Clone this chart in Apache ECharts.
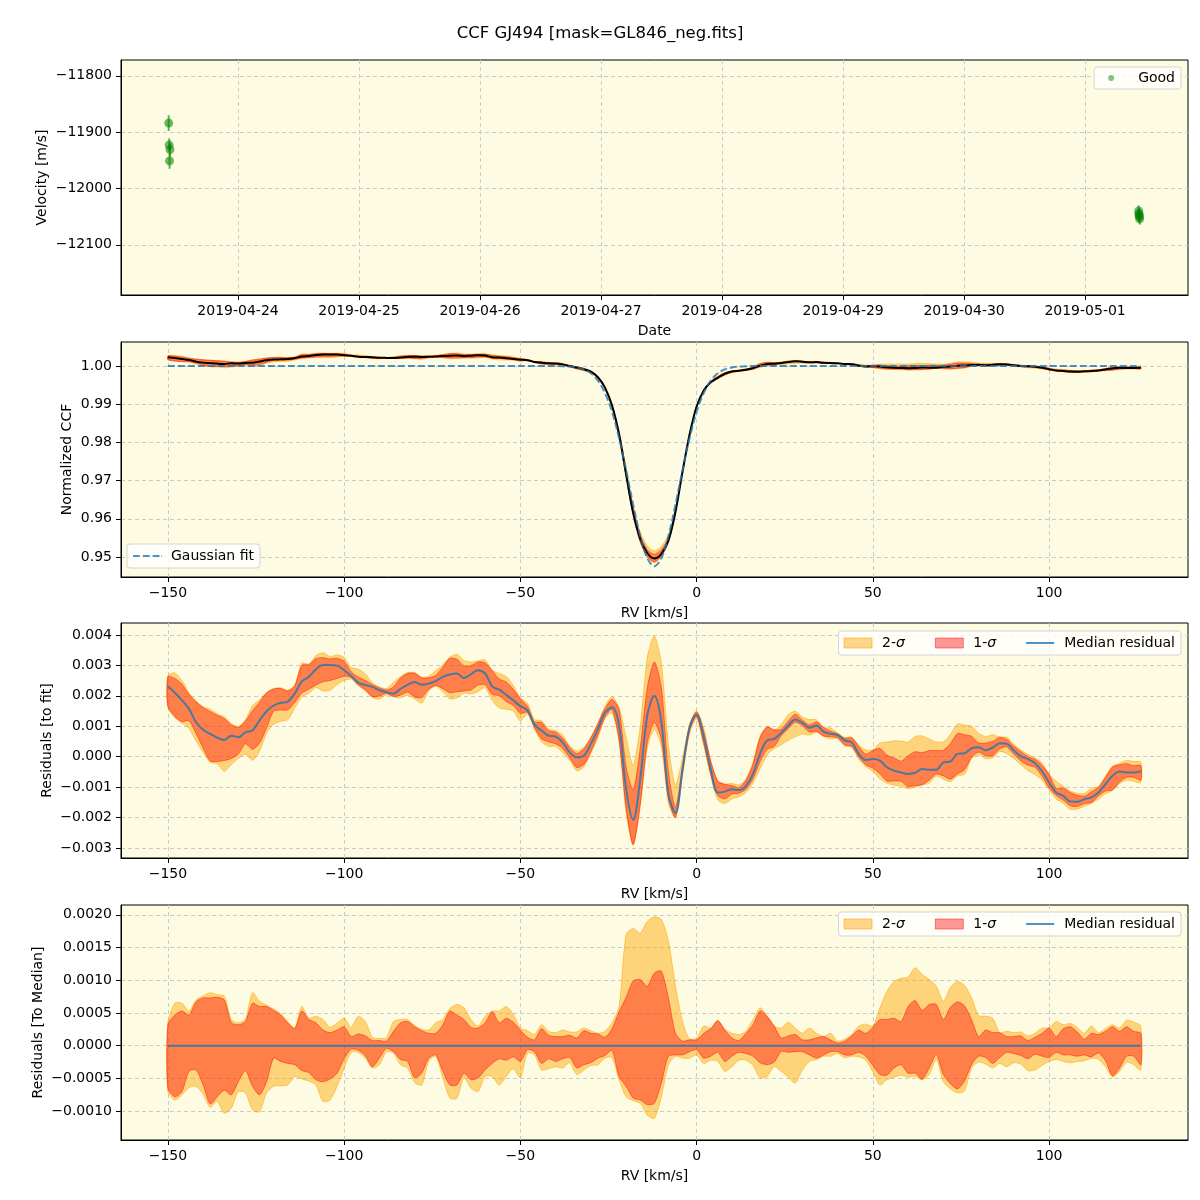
<!DOCTYPE html>
<html><head><meta charset="utf-8">
<script src="https://cdn.jsdelivr.net/npm/echarts@6/dist/echarts.min.js"></script>
<style>html,body{margin:0;padding:0;background:#fff}#c{width:1200px;height:1200px}</style>
</head><body><div id="c"></div>
<script>
// ---------------- DATA ----------------
// Time series (panel 1)
const obsTimes = ['2019-04-23T10:15:00Z','2019-04-23T10:20:00Z','2019-04-23T10:30:00Z','2019-04-23T10:25:00Z',
                  '2019-05-01T10:38:00Z','2019-05-01T10:42:00Z','2019-05-01T10:46:00Z','2019-05-01T10:50:00Z','2019-05-01T10:44:00Z'];
const obsVel   = [-11884,-11923,-11931,-11951,-12040,-12045,-12050,-12054,-12047];
const obsErr   = [14,12,12,14,10,10,10,10,10];
const dateTicks = ['2019-04-24','2019-04-25','2019-04-26','2019-04-27','2019-04-28','2019-04-29','2019-04-30','2019-05-01'];

// RV grid: -150 .. 126 km/s, step 2
const RV_START = -150, RV_STEP = 2;
// Median residual to Gaussian fit, units of 1e-3
const medianResid = [
 2.31,2.10,1.85,1.57,1.13,0.88,0.75,0.62,0.55,0.69,
 0.64,0.80,0.86,1.19,1.49,1.68,1.77,1.81,2.07,2.47,
 2.62,2.87,3.01,3.01,2.99,2.84,2.65,2.43,2.35,2.29,
 2.18,2.12,2.07,2.23,2.36,2.45,2.36,2.40,2.48,2.62,
 2.70,2.73,2.58,2.71,2.84,2.73,2.31,2.20,2.03,1.85,
 1.66,1.52,1.05,0.86,0.69,0.66,0.47,0.14,-0.02,0.03,
 0.42,0.91,1.44,1.62,1.02,-1.07,-2.08,-0.74,1.35,2.00,
 1.13,-1.23,-1.85,-0.41,0.95,1.38,0.64,-0.41,-1.18,-1.15,
 -1.07,-1.10,-0.96,-0.57,0.09,0.53,0.58,0.78,1.02,1.22,
 1.11,0.95,1.02,0.82,0.75,0.71,0.53,0.47,0.09,-0.11,
 -0.08,-0.13,-0.35,-0.46,-0.52,-0.57,-0.53,-0.41,-0.43,-0.43,
 -0.19,-0.16,0.09,0.11,0.27,0.31,0.21,0.30,0.44,0.42,
 0.20,0.01,-0.08,-0.22,-0.48,-0.85,-1.18,-1.29,-1.47,-1.48,
 -1.40,-1.34,-1.18,-0.90,-0.63,-0.49,-0.52,-0.52,-0.48];
// Spread of individual CCFs around the median (units of 1e-3)
const sig2Hi = [
 0.35,0.65,0.65,0.53,0.70,0.76,0.81,0.78,0.76,0.40,
 0.35,0.41,0.81,0.68,0.62,0.56,0.49,0.37,0.28,0.60,
 0.42,0.45,0.40,0.28,0.35,0.42,0.28,0.45,0.37,0.13,
 0.11,0.12,0.37,0.40,0.40,0.31,0.25,0.24,0.35,0.40,
 0.57,0.63,0.58,0.40,0.30,0.45,0.53,0.53,0.60,0.48,
 0.27,0.23,0.17,0.32,0.22,0.20,0.24,0.21,0.21,0.27,
 0.23,0.19,0.22,0.35,0.60,1.70,1.79,1.72,1.90,1.97,
 1.93,1.60,0.91,0.37,0.10,0.12,0.30,0.27,0.39,0.25,
 0.19,0.17,0.22,0.40,0.58,0.45,0.30,0.27,0.36,0.27,
 0.19,0.27,0.19,0.14,0.19,0.07,0.10,0.17,0.30,0.33,
 0.30,0.58,0.83,0.98,1.03,1.05,1.19,1.09,1.01,0.91,
 0.68,0.89,0.98,0.92,0.73,0.46,0.45,0.42,0.20,0.22,
 0.20,0.21,0.15,0.19,0.27,0.27,0.37,0.32,0.34,0.28,
 0.19,0.30,0.20,0.26,0.32,0.27,0.39,0.36,0.30];
const sig1Hi = [
 0.32,0.47,0.53,0.47,0.67,0.73,0.73,0.74,0.70,0.35,
 0.32,0.37,0.65,0.60,0.60,0.54,0.47,0.35,0.26,0.53,
 0.40,0.35,0.24,0.20,0.24,0.29,0.14,0.18,0.15,0.08,
 0.08,0.07,0.22,0.35,0.37,0.29,0.23,0.19,0.19,0.32,
 0.53,0.47,0.40,0.28,0.27,0.35,0.52,0.35,0.42,0.36,
 0.24,0.13,0.09,0.26,0.16,0.14,0.14,0.16,0.12,0.23,
 0.19,0.18,0.13,0.26,0.52,0.74,0.99,1.01,0.91,1.11,
 1.14,0.73,0.19,0.07,0.09,0.09,0.19,0.26,0.38,0.24,
 0.12,0.08,0.19,0.32,0.53,0.45,0.30,0.12,0.15,0.17,
 0.09,0.09,0.12,0.14,0.09,0.04,0.07,0.15,0.24,0.19,
 0.28,0.40,0.40,0.42,0.37,0.60,0.69,0.54,0.63,0.63,
 0.40,0.59,0.67,0.61,0.40,0.14,0.24,0.20,0.20,0.14,
 0.14,0.15,0.08,0.13,0.19,0.27,0.14,0.26,0.29,0.21,
 0.10,0.19,0.17,0.22,0.29,0.22,0.29,0.22,0.19];
const sig1Lo = [
 -0.65,-0.78,-0.70,-0.39,-0.37,-0.60,-0.89,-0.78,-0.68,-0.75,
 -0.55,-0.38,-0.62,-0.75,-0.55,-0.19,-0.24,-0.27,-0.29,-0.38,
 -0.41,-0.52,-0.55,-0.51,-0.42,-0.20,-0.05,-0.07,-0.15,-0.32,
 -0.19,-0.04,-0.09,-0.21,-0.24,-0.49,-0.42,-0.19,-0.14,-0.39,
 -0.60,-0.60,-0.42,-0.52,-0.49,-0.37,-0.27,-0.20,-0.22,-0.17,
 -0.24,-0.06,-0.09,-0.27,-0.20,-0.24,-0.20,-0.18,-0.34,-0.29,
 -0.26,-0.19,-0.15,-0.07,-0.47,-0.62,-0.80,-0.83,-0.90,-0.88,
 -0.57,-0.16,-0.14,-0.14,-0.09,-0.06,-0.19,-0.16,-0.10,-0.24,
 -0.16,-0.10,-0.12,-0.16,-0.26,-0.29,-0.25,-0.09,-0.10,-0.09,
 -0.09,-0.14,-0.19,-0.14,-0.09,-0.09,-0.14,-0.14,-0.10,-0.16,
 -0.30,-0.44,-0.45,-0.34,-0.29,-0.42,-0.42,-0.51,-0.34,-0.14,
 -0.44,-0.58,-0.66,-0.54,-0.29,-0.16,-0.18,-0.27,-0.18,-0.10,
 -0.12,-0.15,-0.20,-0.13,-0.16,-0.18,-0.10,-0.14,-0.14,-0.16,
 -0.14,-0.17,-0.11,-0.23,-0.46,-0.34,-0.16,-0.16,-0.29];
const sig2Lo = [
 -0.70,-0.83,-0.75,-0.64,-0.62,-0.74,-0.94,-0.85,-1.03,-0.95,
 -0.70,-0.72,-0.98,-1.01,-0.72,-0.62,-0.61,-0.60,-0.47,-0.51,
 -0.54,-0.60,-0.85,-0.83,-0.62,-0.34,-0.10,-0.10,-0.19,-0.34,
 -0.29,-0.09,-0.11,-0.29,-0.34,-0.56,-0.60,-0.24,-0.16,-0.49,
 -0.80,-0.80,-0.49,-0.65,-0.70,-0.47,-0.47,-0.60,-0.47,-0.35,
 -0.49,-0.11,-0.14,-0.37,-0.35,-0.32,-0.34,-0.26,-0.44,-0.37,
 -0.30,-0.29,-0.19,-0.18,-0.52,-0.78,-0.84,-0.88,-1.06,-1.11,
 -0.78,-0.29,-0.16,-0.19,-0.19,-0.14,-0.27,-0.22,-0.24,-0.39,
 -0.32,-0.22,-0.22,-0.30,-0.49,-0.47,-0.32,-0.39,-0.48,-0.57,
 -0.37,-0.24,-0.21,-0.16,-0.16,-0.12,-0.18,-0.16,-0.17,-0.22,
 -0.40,-0.60,-0.52,-0.48,-0.45,-0.48,-0.47,-0.52,-0.44,-0.21,
 -0.55,-0.66,-0.72,-0.69,-0.34,-0.25,-0.28,-0.34,-0.27,-0.32,
 -0.26,-0.28,-0.38,-0.37,-0.30,-0.24,-0.21,-0.24,-0.26,-0.24,
 -0.23,-0.19,-0.21,-0.32,-0.48,-0.39,-0.25,-0.29,-0.37];
// Gaussian fit (normalized CCF)
const gaussFit = [
 1,1,1,1,1,1,1,1,1,1, 1,1,1,1,1,1,1,1,1,1, 1,1,1,1,1,1,1,1,1,1,
 1,1,1,1,1,1,1,1,1,1, 1,1,1,1,1,1,1,1,1,1,
 1,1,1,1,1,0.99998,0.99995,0.99985,0.99962,0.99911,
 0.99808,0.99615,0.9929,0.9880,0.9811,0.9727,0.9637,0.9555,0.9497,0.9476,
 0.9497,0.9555,0.9637,0.9727,0.9811,0.9880,0.9929,0.99615,0.99808,0.99911,
 0.99962,0.99985,0.99995,0.99998,1,1,1,1,1,1,
 1,1,1,1,1,1,1,1,1,1, 1,1,1,1,1,1,1,1,1,1, 1,1,1,1,1,1,1,1,1,1,
 1,1,1,1,1,1,1,1,1,1, 1,1,1,1,1,1,1,1,1];
const rvTicks = [-150,-100,-50,0,50,100];

// ---------------- DERIVED ----------------
const S = 1e-3;
const rv = medianResid.map((_, i) => RV_START + i * RV_STEP);
const ccf = gaussFit.map((g, i) => g + medianResid[i] * S);          // CCF = fit + residual
const toMedianZero = medianResid.map(() => 0);
const FONT = "'DejaVu Sans', sans-serif";
const fix = s => String(s).replace(/-/g, '\u2212');

const C2 = 'rgba(255,165,0,0.45)', C2s = 'rgba(255,165,0,0.55)';
const C1 = 'rgba(255,0,0,0.40)',   C1s = 'rgba(255,0,0,0.45)';
const BLUE = 'rgba(31,119,180,0.8)';
const LINE_ICON = 'path://M0,0H28V2H0Z';
const DASH_ICON = 'path://M0,0H7V2H0Z M10,0H17V2H10Z M20,0H27V2H20Z M29,0H29.5V2H29Z';

const grids = [60, 342, 623, 905].map(t => ({left:121, top:t, width:1067, height:235, show:true,
  backgroundColor:'#fdfbe1', borderColor:'#000', borderWidth:1, containLabel:false}));

const splitL = {show:true, lineStyle:{color:'#c9c9cf', type:[4,3], width:1}};
const tickS = {show:true, length:5, inside:false, lineStyle:{color:'#000', width:1}};
const labS = {color:'#000', fontSize:14, fontFamily:FONT, margin:9};
const nameS = {color:'#000', fontSize:14, fontFamily:FONT};

function xAx(gi, min, max, vals, fmt, name) {
  return {type:'value', gridIndex:gi, min, max, name, nameLocation:'middle', nameGap:29, nameTextStyle:nameS,
    nameMoveOverlap:false,
    axisLine:{show:true, onZero:false, lineStyle:{color:'#000'}},
    axisTick:Object.assign({customValues:vals}, tickS),
    axisLabel:Object.assign({customValues:vals, formatter:fmt}, labS),
    splitLine:splitL};
}
function yAx(gi, min, max, vals, fmt, name, gap) {
  return {type:'value', gridIndex:gi, min, max, name, nameLocation:'middle', nameGap:gap, nameTextStyle:nameS,
    nameMoveOverlap:false,
    axisLine:{show:true, onZero:false, lineStyle:{color:'#000'}},
    axisTick:Object.assign({customValues:vals}, tickS),
    axisLabel:Object.assign({customValues:vals, formatter:v => fix(fmt(v))}, labS),
    splitLine:splitL};
}

const tMin = Date.UTC(2019,3,23,0,47), tMax = Date.UTC(2019,4,1,20,25);
const tVals = dateTicks.map(d => Date.parse(d + 'T00:00:00Z'));

function band(name, xi, yi, base, lo, hi, fill, stroke, z) {
  return {type:'custom', name, xAxisIndex:xi, yAxisIndex:yi, z, silent:true, clip:true,
    itemStyle:{color:fill},
    data:[[rv[0], base[0]]],
    renderItem:(params, api) => {
      const pts = [];
      for (let i = 0; i < rv.length; i++) pts.push(api.coord([rv[i], base[i] + hi[i] * S]));
      for (let i = rv.length - 1; i >= 0; i--) pts.push(api.coord([rv[i], base[i] + lo[i] * S]));
      return {type:'polygon', shape:{points:pts, smooth:0.25}, style:{fill, stroke, lineWidth:1}};
    }};
}
const residAbs = medianResid.map(v => v * S);

const legendBase = {orient:'horizontal', backgroundColor:'rgba(255,255,255,0.8)', borderColor:'#d4d4d4',
  borderWidth:1, borderRadius:3, selectedMode:false, symbolKeepAspect:true};

const option = {
  animation:false,
  title:{text:'CCF GJ494 [mask=GL846_neg.fits]', left:'center', top:20,
    textStyle:{fontSize:16.5, fontWeight:'normal', fontFamily:FONT, color:'#000'}},
  grid:grids,
  xAxis:[
    xAx(0, tMin, tMax, tVals, v => new Date(v).toISOString().slice(0,10), 'Date'),
    xAx(1, -163.3, 139.4, rvTicks, v => fix(v), 'RV [km/s]'),
    xAx(2, -163.3, 139.4, rvTicks, v => fix(v), 'RV [km/s]'),
    xAx(3, -163.3, 139.4, rvTicks, v => fix(v), 'RV [km/s]')
  ],
  yAxis:[
    yAx(0, -12189, -11772, [-12100,-12000,-11900,-11800], v => Math.round(v), 'Velocity [m/s]', 72),
    yAx(1, 0.94476, 1.00628, [0.95,0.96,0.97,0.98,0.99,1.00], v => v.toFixed(2), 'Normalized CCF', 47),
    yAx(2, -0.00333, 0.00439, [-0.003,-0.002,-0.001,0,0.001,0.002,0.003,0.004], v => v.toFixed(3), 'Residuals [to fit]', 67),
    yAx(3, -0.00144, 0.00215, [-0.001,-0.0005,0,0.0005,0.001,0.0015,0.002], v => v.toFixed(4), 'Residuals [To Median]', 76)
  ],
  legend:[
    Object.assign({}, legendBase, {right:19, top:67, itemWidth:6, itemHeight:6, padding:[4,6,4,14],
      data:[{name:'Good', icon:'circle', itemStyle:{color:'rgba(0,128,0,0.6)'}}],
      textStyle:{fontSize:14, fontFamily:FONT, color:'#000', padding:[0,0,0,19]}}),
    Object.assign({}, legendBase, {left:127, top:544, itemWidth:29, itemHeight:10, padding:[5,6,5,6],
      data:[{name:'Gaussian fit', icon:DASH_ICON, itemStyle:{color:BLUE, borderWidth:0}}],
      textStyle:{fontSize:14, fontFamily:FONT, color:'#000', padding:[0,0,0,4]}}),
    ...[631, 912].map(t => Object.assign({}, legendBase, {right:19, top:t, itemWidth:28, itemHeight:10, itemGap:30,
      padding:[5,6,5,5],
      data:[{name:'2-σ', icon:'rect', itemStyle:{color:C2, borderColor:C2s, borderWidth:1}},
            {name:'1-σ', icon:'rect', itemStyle:{color:C1, borderColor:C1s, borderWidth:1}},
            {name:'Median residual', icon:LINE_ICON, itemStyle:{color:BLUE, borderWidth:0}}],
      formatter:n => n.replace('σ', '{i|σ}'),
      textStyle:{fontSize:14, fontFamily:FONT, color:'#000', padding:[0,0,0,5],
        rich:{i:{fontStyle:'italic', fontSize:14, fontFamily:FONT, color:'#000'}}}}))
  ],
  series:[
    // Panel 1
    {type:'custom', name:'Good err', xAxisIndex:0, yAxisIndex:0, silent:true, z:2,
      data:obsTimes.map((t, i) => [Date.parse(t), obsVel[i], obsErr[i]]),
      renderItem:(params, api) => {
        const x = api.value(0), y = api.value(1), e = api.value(2);
        const a = api.coord([x, y - e]), b = api.coord([x, y + e]);
        return {type:'line', shape:{x1:a[0], y1:a[1], x2:b[0], y2:b[1]},
          style:{stroke:'rgba(0,128,0,0.6)', lineWidth:2}};
      }},
    {type:'scatter', name:'Good', xAxisIndex:0, yAxisIndex:0, z:3, symbolSize:9,
      itemStyle:{color:'rgba(0,128,0,0.7)'},
      data:obsTimes.map((t, i) => [Date.parse(t), obsVel[i]])},
    // Panel 2
    band('2-σ', 1, 1, ccf, sig2Lo, sig2Hi, C2, C2s, 1),
    band('1-σ', 1, 1, ccf, sig1Lo, sig1Hi, C1, C1s, 2),
    {type:'line', name:'CCF', xAxisIndex:1, yAxisIndex:1, z:4, symbol:'none', smooth:0.35,
      lineStyle:{color:'#000', width:2}, data:rv.map((x, i) => [x, ccf[i]])},
    {type:'line', name:'Gaussian fit', xAxisIndex:1, yAxisIndex:1, z:5, symbol:'none', smooth:0.35,
      itemStyle:{color:BLUE}, lineStyle:{color:BLUE, width:2, type:[7,3]}, data:rv.map((x, i) => [x, gaussFit[i]])},
    // Panel 3
    band('2-σ', 2, 2, residAbs, sig2Lo, sig2Hi, C2, C2s, 1),
    band('1-σ', 2, 2, residAbs, sig1Lo, sig1Hi, C1, C1s, 2),
    {type:'line', name:'Median residual', xAxisIndex:2, yAxisIndex:2, z:4, symbol:'none', smooth:0.35,
      itemStyle:{color:BLUE}, lineStyle:{color:BLUE, width:2}, data:rv.map((x, i) => [x, residAbs[i]])},
    // Panel 4
    band('2-σ', 3, 3, toMedianZero, sig2Lo, sig2Hi, C2, C2s, 1),
    band('1-σ', 3, 3, toMedianZero, sig1Lo, sig1Hi, C1, C1s, 2),
    {type:'line', name:'Median residual', xAxisIndex:3, yAxisIndex:3, z:4, symbol:'none',
      itemStyle:{color:BLUE}, lineStyle:{color:BLUE, width:2}, data:rv.map((x, i) => [x, toMedianZero[i]])}
  ]
};
const chart = echarts.init(document.getElementById('c'), null, {renderer:'canvas'});
chart.setOption(option);
</script></body></html>
